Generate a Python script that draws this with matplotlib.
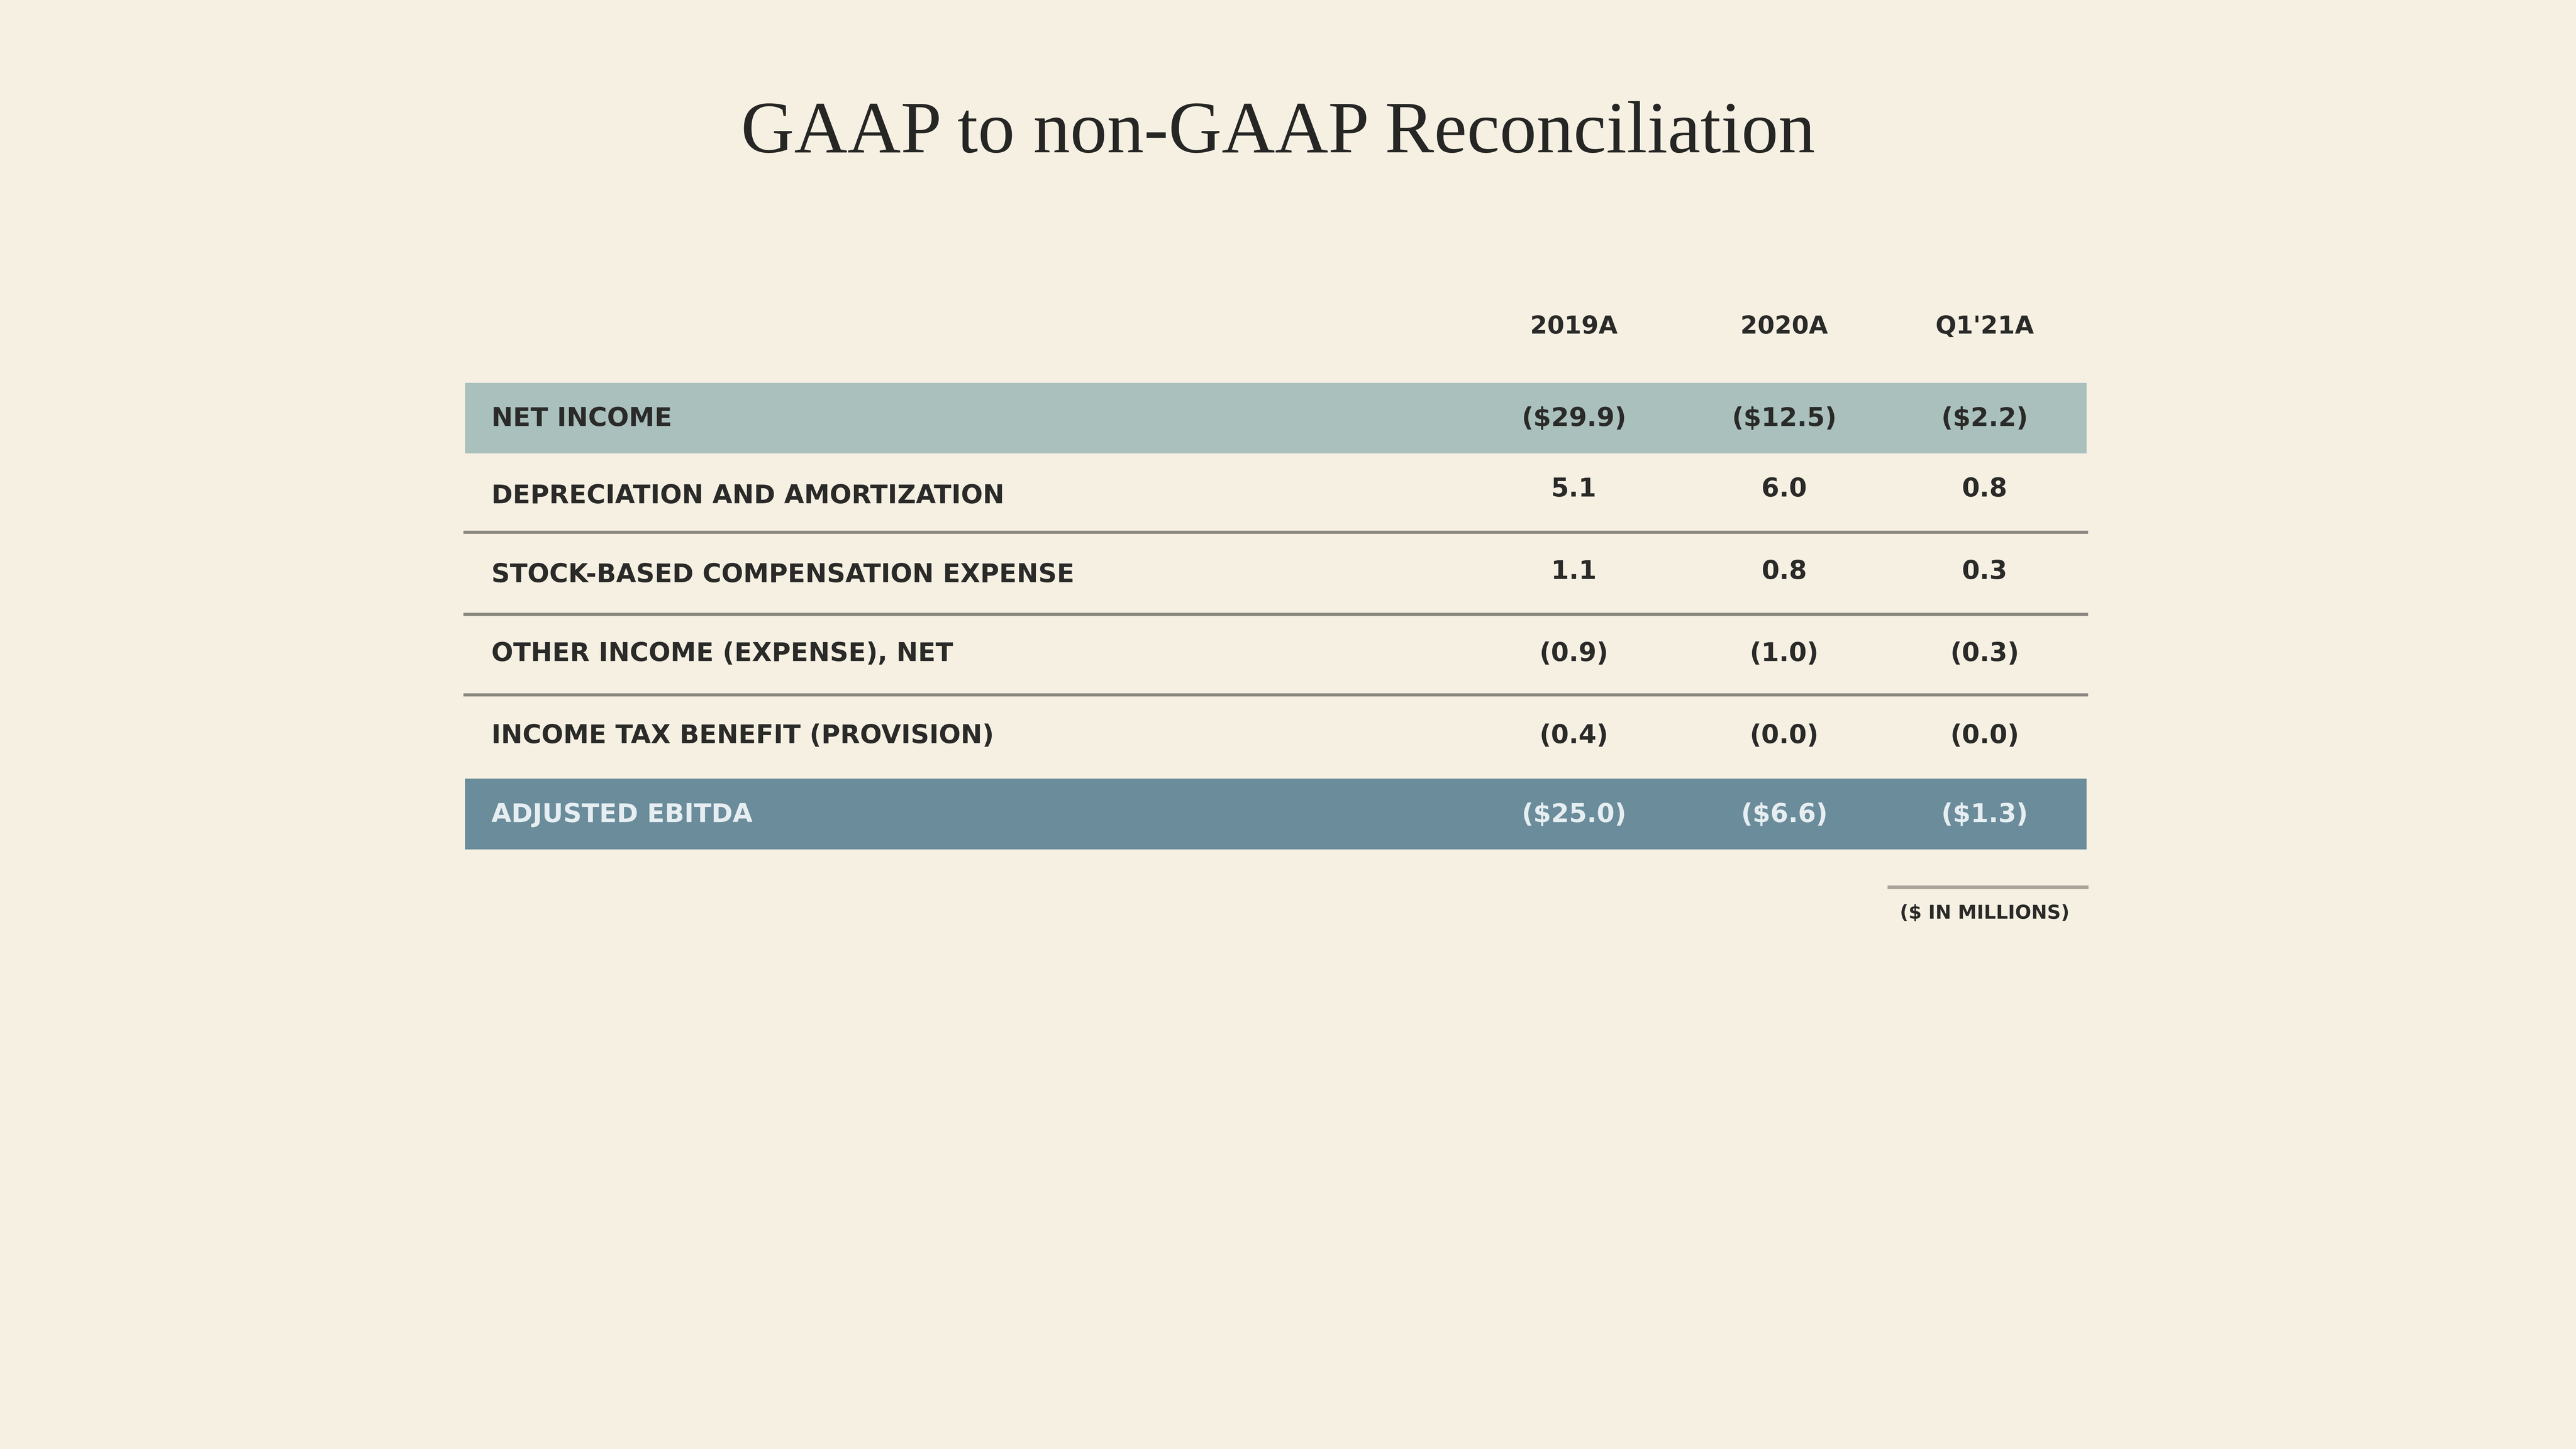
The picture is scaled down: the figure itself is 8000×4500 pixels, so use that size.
import matplotlib
matplotlib.use("Agg")
import matplotlib.pyplot as plt
from matplotlib.patches import Rectangle

title = "GAAP to non-GAAP Reconciliation"
columns = ["2019A", "2020A", "Q1'21A"]
row_labels = ["NET INCOME", "DEPRECIATION AND AMORTIZATION", "STOCK-BASED COMPENSATION EXPENSE",
              "OTHER INCOME (EXPENSE), NET", "INCOME TAX BENEFIT (PROVISION)", "ADJUSTED EBITDA"]
v2019 = ["($29.9)", "5.1", "1.1", "(0.9)", "(0.4)", "($25.0)"]
v2020 = ["($12.5)", "6.0", "0.8", "(1.0)", "(0.0)", "($6.6)"]
vq121 = ["($2.2)", "0.8", "0.3", "(0.3)", "(0.0)", "($1.3)"]
footnote = "($ IN MILLIONS)"

BG = "#f6f0e3"
TXT = "#2a2a28"
fig = plt.figure(figsize=(16, 9), dpi=500, facecolor=BG)
ax = fig.add_axes([0, 0, 1, 1])
ax.set_xlim(0, 1568); ax.set_ylim(882, 0); ax.axis("off")
ax.set_facecolor(BG)

ax.text(778, 82, title, ha="center", va="center", fontsize=33, family="Liberation Serif", color="#262624")

col_x = [958, 1086, 1208]
sans = "DejaVu Sans"
for x, c in zip(col_x, columns):
    ax.text(x, 199, c, ha="center", va="center", fontsize=11, fontweight="bold", family=sans, color=TXT)

x0, x1 = 283, 1270
ax.add_patch(Rectangle((x0, 233), x1 - x0, 43, color="#a9c0bd", lw=0))
ax.add_patch(Rectangle((x0, 474), x1 - x0, 43, color="#6b8c9a", lw=0))
for y in [324, 374, 423]:
    ax.plot([x0, x1], [y, y], color="#8a8780", lw=1.4)

label_y = [255, 302, 350, 398, 448, 496]
val_y = [255, 298, 348, 398, 448, 496]
for i, lab in enumerate(row_labels):
    col = "#e6eef2" if i == len(row_labels) - 1 else TXT
    ax.text(299, label_y[i], lab, ha="left", va="center", fontsize=11.5, fontweight="bold", family=sans, color=col)
    for x, vals in zip(col_x, [v2019, v2020, vq121]):
        ax.text(x, val_y[i], vals[i], ha="center", va="center", fontsize=11.5, fontweight="bold", family=sans, color=col)

ax.plot([1150, 1270], [540, 540], color="#a9a49a", lw=1.6)
ax.text(1208, 556, footnote, ha="center", va="center", fontsize=8.5, fontweight="bold", family=sans, color=TXT)

fig.savefig("out.png", dpi=500, facecolor=BG)
